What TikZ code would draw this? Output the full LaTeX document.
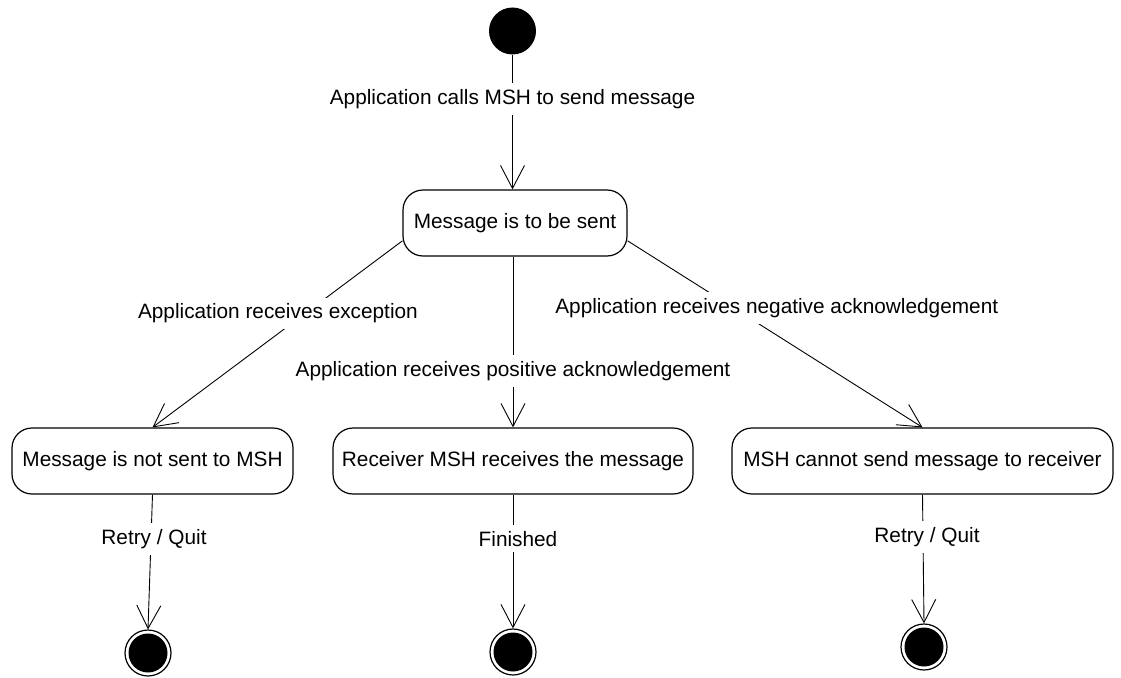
\documentclass[tikz,border=0pt]{standalone}
\usepackage{fontspec}
\setmainfont{Liberation Sans}
\usetikzlibrary{positioning,arrows.meta}

\begin{document}
\begin{tikzpicture}[x=1pt, y=-1pt,
  state/.style={draw, rounded corners=20pt, line width=1.2pt, minimum height=66pt, align=center, inner sep=5pt, font=\fontsize{20.8}{25}\selectfont},
  lab/.style={fill=white, inner sep=6pt, font=\fontsize{20.8}{25}\selectfont},
  init/.style={circle, fill=black, minimum size=47pt, inner sep=0pt},
  final/.style={circle, draw, line width=1.2pt, minimum size=46pt, inner sep=0pt,
    path picture={\fill (path picture bounding box.center) circle (19.5pt);}},
  trans/.style={line width=0.9pt, -{Straight Barb[length=23pt, width=24pt, line width=0.9pt]}}]
\useasboundingbox (0,0) rectangle (1121,677);
\node[init] (start) at (512.5,31) {};
\node[state, minimum width=224pt] (msg) at (515,223) {Message is to be sent};
\node[state, minimum width=281pt] (notsent) at (152.5,461) {Message is not sent to MSH};
\node[state, minimum width=360pt] (recv) at (513,461) {Receiver MSH receives the message};
\node[state, minimum width=381pt] (cannot) at (922.5,461) {MSH cannot send message to receiver};
\node[final] (end1) at (148,653) {};
\node[final] (end2) at (513,652) {};
\node[final] (end3) at (924,647) {};
\draw[trans] (start.south) -- node[lab, pos=0.33] {Application calls MSH to send message} (start.south |- msg.north);
\draw[trans] (msg.189) -- node[lab, pos=0.39, xshift=-27pt] {Application receives exception} (notsent.north);
\draw[trans] (msg.south -| recv.north) -- node[lab, pos=0.67] {Application receives positive acknowledgement} (recv.north);
\draw[trans] (msg.351) -- node[lab, pos=0.36, xshift=43pt] {Application receives negative acknowledgement} (cannot.north);
\draw[trans] (notsent.south) -- node[lab, pos=0.33, xshift=3pt] {Retry / Quit} (end1.north);
\draw[trans] (recv.south) -- node[lab, pos=0.33, xshift=5pt] {Finished} (end2.north);
\draw[trans] (cannot.south) -- node[lab, pos=0.33, xshift=4pt] {Retry / Quit} (end3.north);
\end{tikzpicture}
\end{document}
